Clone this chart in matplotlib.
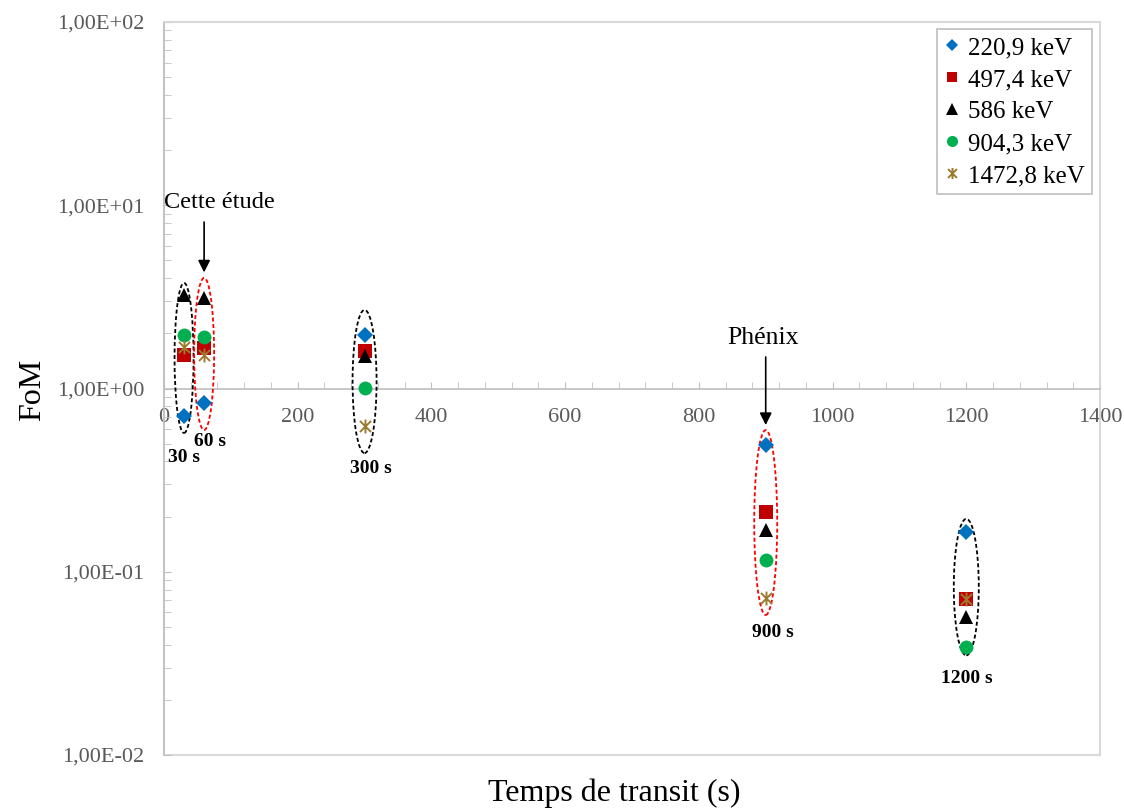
import matplotlib
matplotlib.use("Agg")
import matplotlib.pyplot as plt
import numpy as np
from matplotlib.path import Path
from matplotlib.patches import Ellipse, Rectangle
from matplotlib.ticker import FixedLocator, FuncFormatter, LogLocator, MultipleLocator

# ---------------- data ----------------
times = [30, 60, 300, 900, 1200]
series_labels = ["220,9 keV", "497,4 keV", "586 keV", "904,3 keV", "1472,8 keV"]
fom_220 = [0.708, 0.833, 1.96, 0.491, 0.165]
fom_497 = [1.52, 1.66, 1.60, 0.212, 0.0710]
fom_586 = [3.24, 3.12, 1.50, 0.169, 0.0565]
fom_904 = [1.96, 1.91, 1.006, 0.116, 0.0387]
fom_1472 = [1.68, 1.52, 0.624, 0.0719, 0.0710]
cluster_labels = ["30 s", "60 s", "300 s", "900 s", "1200 s"]
y_ticks = [0.01, 0.1, 1, 10, 100]
x_ticks = [0, 200, 400, 600, 800, 1000, 1200, 1400]

# ---------------- style ----------------
SERIF = ["Liberation Serif", "DejaVu Serif"]
plt.rcParams["font.family"] = SERIF
GRID_GRAY = "#D9D9D9"
AXIS_GRAY = "#BFBFBF"
LABEL_GRAY = "#595959"

asterisk = Path([(-1, -1), (1, 1), (-1, 1), (1, -1), (0, -1.25), (0, 1.25)],
                [Path.MOVETO, Path.LINETO, Path.MOVETO, Path.LINETO, Path.MOVETO, Path.LINETO])

styles = [
    dict(marker="D", color="#0070C0", ms=8.0),
    dict(marker="s", color="#C00000", ms=9.5),
    dict(marker="^", color="#000000", ms=10.0),
    dict(marker="o", color="#00B050", ms=10.0),
    dict(marker=asterisk, color="#9C7A2E", ms=10.0, mew=1.4),
]

fig = plt.figure(figsize=(11.24, 8.08), dpi=100)
W, H = 1124, 808
ax = fig.add_axes([164 / W, 53 / H, 936 / W, 733 / H])
ax.set_yscale("log")
ax.set_xlim(0, 1400)
ax.set_ylim(0.01, 100)

all_series = [fom_220, fom_497, fom_586, fom_904, fom_1472]
for vals, lab, st in zip(all_series, series_labels, styles):
    st = dict(st)
    mew = st.pop("mew", 0)
    ax.plot(times, vals, linestyle="none", marker=st["marker"], markersize=st["ms"],
            color=st["color"], markeredgecolor=st["color"], markeredgewidth=mew,
            label=lab, zorder=5)

# axes styling
for side in ["top", "right", "left"]:
    ax.spines[side].set_color(GRID_GRAY)
    ax.spines[side].set_linewidth(1.2)
ax.spines["left"].set_color(AXIS_GRAY)
ax.spines["bottom"].set_position(("data", 1))
ax.spines["bottom"].set_color(AXIS_GRAY)
ax.spines["bottom"].set_linewidth(1.2)
ax.add_patch(Rectangle((0, 0), 1, 1, transform=ax.transAxes, fill=False,
                       edgecolor=GRID_GRAY, linewidth=1.5, clip_on=False, zorder=0))

ax.xaxis.set_major_locator(FixedLocator(x_ticks))
ax.xaxis.set_minor_locator(MultipleLocator(40))
ax.yaxis.set_major_locator(FixedLocator(y_ticks))
ax.yaxis.set_minor_locator(LogLocator(base=10, subs=np.arange(2, 10)))
ax.yaxis.set_minor_formatter(FuncFormatter(lambda v, p: ""))


def sci_fmt(v, pos):
    e = int(round(np.log10(v)))
    sign = "+" if e >= 0 else "-"
    return "1,00E%s%02d" % (sign, abs(e))


ax.yaxis.set_major_formatter(FuncFormatter(sci_fmt))
ax.tick_params(axis="x", which="both", direction="in", length=5, color=AXIS_GRAY,
               labelcolor=LABEL_GRAY, labelsize=16, pad=14)
ax.tick_params(axis="y", which="both", direction="in", length=5, color=AXIS_GRAY,
               labelcolor=LABEL_GRAY, labelsize=16, pad=14)

ax.set_xlabel("Temps de transit (s)", fontsize=23)
ax.xaxis.set_label_coords(0.481, -0.032)
ax.set_ylabel("FoM", fontsize=23)
ax.yaxis.set_label_coords(-0.125, 0.498)

# ---------------- ellipses around clusters ----------------
ell_colors = ["black", "#FF0000", "black", "#FF0000", "black"]
ell_width_px = [19, 20, 24, 23, 25]
ell_pad_px = [(12, 17), (20, 27), (25, 27), (15, 17), (13, 8)]
fig.canvas.draw()
to_axes = ax.transAxes.inverted()
ax_w_px = ax.bbox.width
for i, t in enumerate(times):
    col_vals = [s[i] for s in all_series]
    top = ax.transData.transform((t, max(col_vals)))
    bot = ax.transData.transform((t, min(col_vals)))
    top_px = top[1] + ell_pad_px[i][0]
    bot_px = bot[1] - ell_pad_px[i][1]
    (xa, ya_top) = to_axes.transform((top[0], top_px))
    (_, ya_bot) = to_axes.transform((top[0], bot_px))
    e = Ellipse((xa, (ya_top + ya_bot) / 2), ell_width_px[i] / ax_w_px, ya_top - ya_bot,
                transform=ax.transAxes, fill=False, edgecolor=ell_colors[i],
                linestyle=(0, (2.2, 1.4)), linewidth=1.3, zorder=4)
    ax.add_patch(e)

# cluster labels
label_pos = [(30, 0.418), (69, 0.511), (310, 0.368), (911, 0.0469), (1201, 0.0263)]
for (lx, ly), txt in zip(label_pos, cluster_labels):
    ax.text(lx, ly, txt, fontsize=14, fontweight="bold", ha="center", va="center", zorder=6)

# annotations
ax.text(83, 10.3, "Cette étude", fontsize=17.5, ha="center", va="center")
ax.annotate("", xy=(60, 4.3), xytext=(60, 8.1),
            arrowprops=dict(arrowstyle="-|>", color="black", lw=1.2, mutation_scale=18,
                            shrinkA=0, shrinkB=0))
ax.text(896, 1.89, "Phénix", fontsize=18.5, ha="center", va="center")
ax.annotate("", xy=(900, 0.632), xytext=(900, 1.486),
            arrowprops=dict(arrowstyle="-|>", color="black", lw=1.2, mutation_scale=18,
                            shrinkA=0, shrinkB=0))

leg = ax.legend(loc="upper right", bbox_to_anchor=(0.9915, 0.9905), fontsize=18,
                frameon=True, fancybox=False, edgecolor=AXIS_GRAY, framealpha=1,
                handlelength=0.6, handletextpad=0.35, labelspacing=0.38, borderpad=0.3,
                borderaxespad=0, markerscale=0.8)
leg.get_frame().set_linewidth(1.2)

fig.savefig("out.png", dpi=100)
